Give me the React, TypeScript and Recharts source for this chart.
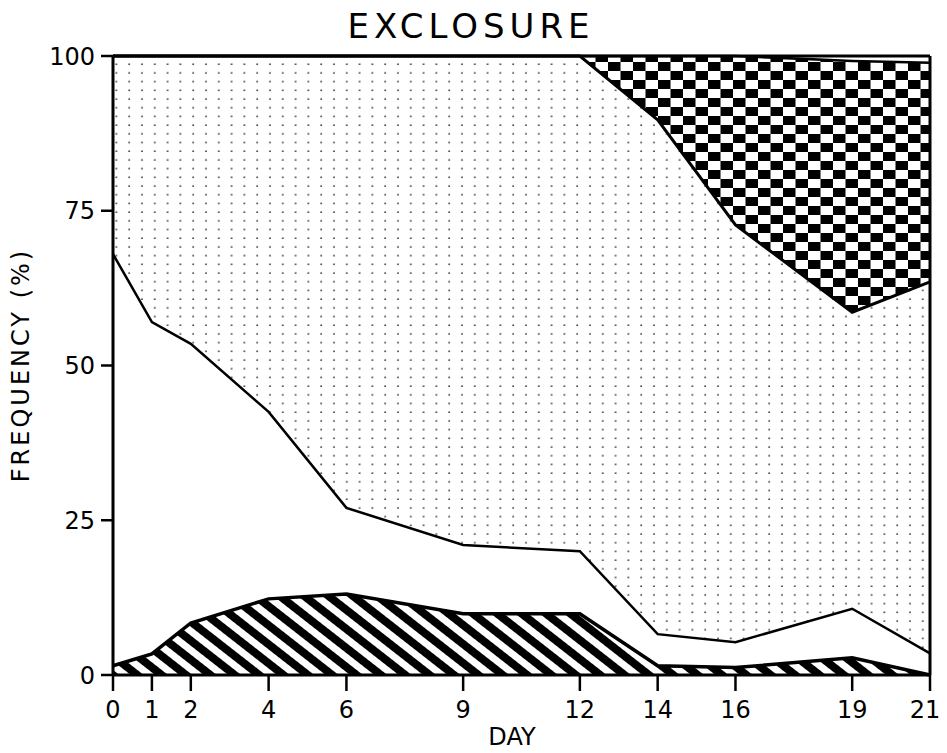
import React from 'react';
import { ComposedChart, Area, Line, XAxis, YAxis, ReferenceLine } from 'recharts';

// Day of sampling and the share (%) of each class, stacked bottom -> top
const days = [0, 1, 2, 4, 6, 9, 12, 14, 16, 19, 21];
const hatched = [1.5, 3.4, 8.4, 12.3, 13.1, 9.9, 9.9, 1.5, 1.2, 2.8, 0];
const blank = [66.5, 53.6, 45.1, 30.2, 13.9, 11.1, 10.1, 5.1, 4.1, 7.9, 3.5];
const dotted = [32, 43, 46.5, 57.5, 73, 79, 80, 83.1, 67.4, 47.9, 60];
const checkered = [0, 0, 0, 0, 0, 0, 0, 10.3, 27.3, 40.6, 35.4];
const rest = [0, 0, 0, 0, 0, 0, 0, 0, 0, 0.8, 1.1];

const yTicks = [0, 25, 50, 75, 100];

// stacked values plus the running totals used for the outline of each band
const data = days.map((d, i) => {
  const t1 = hatched[i];
  const t2 = t1 + blank[i];
  const t3 = t2 + dotted[i];
  const t4 = t3 + checkered[i];
  return {
    day: d,
    hatched: hatched[i],
    blank: blank[i],
    dotted: dotted[i],
    checkered: checkered[i],
    rest: rest[i],
    t1,
    t2,
    t3,
    t4,
  };
});

const FONT = '"DejaVu Sans", sans-serif';

const XTick = (props: any) => {
  const { x, y, payload } = props;
  const shift = payload.value === 21 ? -5 : 0;
  return (
    <text x={x + shift} y={y} dy={19} textAnchor="middle" fontSize={24} fontFamily={FONT} fill="#000">
      {payload.value}
    </text>
  );
};

const App: React.FC = () => (
  <div style={{ position: 'relative', width: 939, height: 745, fontFamily: FONT }}>
    <div
      style={{
        position: 'absolute',
        top: 1,
        left: 0,
        width: 926,
        textAlign: 'center',
        fontSize: 34,
        lineHeight: 1,
        letterSpacing: 5,
        color: '#000',
      }}
    >
      EXCLOSURE
    </div>
    <ComposedChart width={939} height={745} data={data} margin={{ top: 48, right: 17, bottom: 0, left: 0 }}>
      <defs>
        <pattern id="hatch" patternUnits="userSpaceOnUse" width={15} height={15} patternTransform="rotate(-52)">
          <rect x={0} y={0} width={15} height={15} fill="#fff" />
          <rect x={0} y={0} width={8} height={15} fill="#000" />
        </pattern>
        <pattern id="dots" patternUnits="userSpaceOnUse" width={12.8} height={8.7}>
          <rect x={0} y={0} width={12.8} height={8.7} fill="#fff" />
          <circle cx={6} cy={4} r={0.9} fill="#333" />
        </pattern>
        <pattern id="checks" patternUnits="userSpaceOnUse" width={25} height={18}>
          <rect x={0} y={0} width={25} height={18} fill="#fff" />
          <rect x={0} y={0} width={12.5} height={9} fill="#000" />
          <rect x={12.5} y={9} width={12.5} height={9} fill="#000" />
        </pattern>
      </defs>
      <XAxis
        dataKey="day"
        type="number"
        domain={[0, 21]}
        ticks={days}
        interval={0}
        height={78}
        tickSize={16}
        tickMargin={8}
        tick={<XTick />}
        axisLine={{ stroke: '#000', strokeWidth: 3 }}
        tickLine={{ stroke: '#000', strokeWidth: 2.5 }}
        label={{
          content: () => (
            <text x={504} y={737} textAnchor="middle" fontSize={24} fontFamily={FONT} fill="#000">
              DAY
            </text>
          ),
        }}
      />
      <YAxis
        type="number"
        domain={[0, 100]}
        ticks={yTicks}
        interval={0}
        width={105}
        tickSize={12}
        tickMargin={6}
        tick={{ fontSize: 24, fill: '#000', fontFamily: FONT }}
        axisLine={{ stroke: '#000', strokeWidth: 3 }}
        tickLine={{ stroke: '#000', strokeWidth: 2.5 }}
        label={{
          content: () => (
            <text
              x={13}
              y={357}
              transform="rotate(-90 13 357)"
              textAnchor="middle"
              dominantBaseline="central"
              fontSize={24}
              letterSpacing={3}
              fontFamily={FONT}
              fill="#000"
            >
              FREQUENCY (%)
            </text>
          ),
        }}
      />
      <Area type="linear" dataKey="hatched" stackId="1" fill="url(#hatch)" fillOpacity={1} stroke="none" isAnimationActive={false} />
      <Area type="linear" dataKey="blank" stackId="1" fill="#fff" fillOpacity={1} stroke="none" isAnimationActive={false} />
      <Area type="linear" dataKey="dotted" stackId="1" fill="url(#dots)" fillOpacity={1} stroke="none" isAnimationActive={false} />
      <Area type="linear" dataKey="checkered" stackId="1" fill="url(#checks)" fillOpacity={1} stroke="none" isAnimationActive={false} />
      <Area type="linear" dataKey="rest" stackId="1" fill="#fff" fillOpacity={1} stroke="none" isAnimationActive={false} />
      <Line type="linear" dataKey="t1" stroke="#000" strokeWidth={3.5} dot={false} activeDot={false} isAnimationActive={false} />
      <Line type="linear" dataKey="t2" stroke="#000" strokeWidth={2.5} dot={false} activeDot={false} isAnimationActive={false} />
      <Line type="linear" dataKey="t3" stroke="#000" strokeWidth={3} dot={false} activeDot={false} isAnimationActive={false} />
      <Line type="linear" dataKey="t4" stroke="#000" strokeWidth={2.5} dot={false} activeDot={false} isAnimationActive={false} />
      <ReferenceLine y={100} stroke="#000" strokeWidth={3} />
      <ReferenceLine x={21} stroke="#000" strokeWidth={3} />
    </ComposedChart>
  </div>
);

export default App;
